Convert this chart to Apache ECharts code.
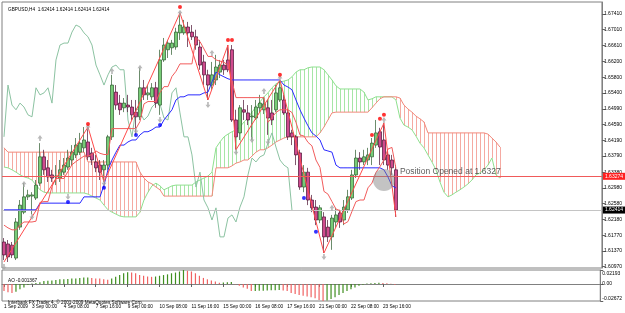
<!DOCTYPE html>
<html><head><meta charset="utf-8">
<script src="https://cdn.jsdelivr.net/npm/echarts@6/dist/echarts.min.js"></script>
<style>html,body{margin:0;padding:0;background:#fff}#c{width:625px;height:313px}</style>
</head><body><div id="c"></div>
<script>
// ---- axis labels ----
const tickLabels = ['1 Sep 2009','3 Sep 00:00','4 Sep 08:00','7 Sep 16:00','9 Sep 00:00','10 Sep 08:00','11 Sep 16:00','15 Sep 00:00','16 Sep 08:00','17 Sep 16:00','21 Sep 00:00','22 Sep 08:00','23 Sep 16:00'];
const tickBars = [0,7,15,23,31,39,47,55,63,71,79,87,95];
const priceTicks = [1.67410,1.67010,1.66610,1.66200,1.65800,1.65400,1.64990,1.64590,1.64190,1.63790,1.63380,1.62980,1.62580,1.62180,1.61770,1.61370,1.60970];
const aoTicks = [0.02193,0,-0.02672];
const slotCount = 150;

// ---- GBPUSD H4 candles ----
const opens = [1.6160,1.6155,1.6152,1.6119,1.6198,1.6236,1.6275,1.6277,1.6272,1.6310,
1.6377,1.6349,1.6331,1.6326,1.6323,1.6338,1.6351,1.6369,1.6382,1.6389,
1.6400,1.6415,1.6387,1.6364,1.6356,1.6344,1.6356,1.6428,1.6542,1.6514,
1.6502,1.6509,1.6504,1.6491,1.6479,1.6553,1.6535,1.6530,1.6553,1.6509,
1.6624,1.6650,1.6655,1.6657,1.6693,1.6693,1.6708,1.6695,1.6683,1.6657,
1.6619,1.6586,1.6560,1.6573,1.6593,1.6611,1.6624,1.6650,1.6471,1.6438,
1.6497,1.6489,1.6479,1.6476,1.6502,1.6497,1.6502,1.6489,1.6497,1.6522,
1.6522,1.6489,1.6438,1.6428,1.6387,1.6300,1.6338,1.6267,1.6249,1.6216,
1.6224,1.6198,1.6173,1.6211,1.6234,1.6216,1.6242,1.6272,1.6331,1.6374,
1.6364,1.6369,1.6377,1.6407,1.6441,1.6420,1.6382,1.6369,1.6344];
const closes = [1.6127,1.6122,1.6127,1.6211,1.6254,1.6275,1.6280,1.6280,1.6305,1.6377,
1.6344,1.6326,1.6323,1.6328,1.6344,1.6356,1.6374,1.6389,1.6407,1.6412,
1.6420,1.6377,1.6369,1.6349,1.6338,1.6356,1.6428,1.6560,1.6509,1.6497,
1.6514,1.6504,1.6484,1.6479,1.6553,1.6535,1.6540,1.6553,1.6514,1.6624,
1.6662,1.6667,1.6667,1.6695,1.6713,1.6708,1.6693,1.6683,1.6662,1.6611,
1.6586,1.6560,1.6586,1.6606,1.6611,1.6599,1.6599,1.6471,1.6428,1.6502,
1.6491,1.6471,1.6481,1.6504,1.6514,1.6512,1.6476,1.6471,1.6540,1.6553,
1.6489,1.6428,1.6428,1.6382,1.6300,1.6338,1.6267,1.6247,1.6216,1.6247,
1.6173,1.6173,1.6221,1.6229,1.6211,1.6249,1.6275,1.6331,1.6374,1.6364,
1.6377,1.6382,1.6412,1.6438,1.6402,1.6369,1.6356,1.6349,1.62414];
const lows = [1.6114,1.6109,1.6119,1.6114,1.6191,1.6231,1.6267,1.6231,1.6267,1.6303,
1.6331,1.6313,1.6313,1.6305,1.6313,1.6331,1.6344,1.6356,1.6374,1.6382,
1.6389,1.6369,1.6356,1.6338,1.6318,1.6313,1.6344,1.6420,1.6497,1.6484,
1.6491,1.6491,1.6471,1.6433,1.6471,1.6522,1.6522,1.6522,1.6502,1.6484,
1.6619,1.6629,1.6637,1.6650,1.6675,1.6688,1.6657,1.6675,1.6650,1.6599,
1.6560,1.6522,1.6548,1.6560,1.6578,1.6586,1.6593,1.6466,1.6395,1.6420,
1.6471,1.6458,1.6420,1.6471,1.6491,1.6486,1.6433,1.6458,1.6491,1.6517,
1.6484,1.6420,1.6407,1.6356,1.6293,1.6287,1.6254,1.6236,1.6203,1.6208,
1.6132,1.6160,1.6140,1.6196,1.6196,1.6203,1.6234,1.6267,1.6323,1.6344,
1.6356,1.6356,1.6356,1.6400,1.6356,1.6356,1.6344,1.6331,1.6224];
const highs = [1.6170,1.6165,1.6160,1.6221,1.6267,1.6310,1.6293,1.6287,1.6318,1.6412,
1.6395,1.6369,1.6344,1.6356,1.6369,1.6374,1.6395,1.6407,1.6425,1.6438,
1.6453,1.6453,1.6400,1.6382,1.6369,1.6369,1.6433,1.6586,1.6560,1.6535,
1.6527,1.6535,1.6522,1.6522,1.6604,1.6573,1.6560,1.6565,1.6568,1.6650,
1.6680,1.6675,1.6675,1.6706,1.6744,1.6726,1.6721,1.6713,1.6701,1.6675,
1.6637,1.6599,1.6619,1.6637,1.6624,1.6624,1.6662,1.6662,1.6497,1.6509,
1.6522,1.6509,1.6509,1.6522,1.6535,1.6530,1.6522,1.6522,1.6560,1.6573,
1.6535,1.6497,1.6446,1.6433,1.6395,1.6356,1.6349,1.6280,1.6267,1.6254,
1.6236,1.6216,1.6229,1.6247,1.6242,1.6267,1.6293,1.6344,1.6395,1.6389,
1.6395,1.6400,1.6425,1.6471,1.6451,1.6463,1.6395,1.6382,1.6356];

// ---- Ichimoku ----
const tenkan = [1.6203,1.6196,1.6191,1.6191,1.6203,1.6211,1.6211,1.6211,1.6213,1.6261,
1.6263,1.6263,1.6301,1.6322,1.6322,1.6322,1.6340,1.6357,1.6365,1.6372,
1.6379,1.6379,1.6383,1.6392,1.6386,1.6383,1.6383,1.6449,1.6449,1.6449,
1.6449,1.6449,1.6449,1.6449,1.6467,1.6512,1.6518,1.6518,1.6518,1.6541,
1.6556,1.6556,1.6582,1.6595,1.6614,1.6614,1.6614,1.6614,1.6681,1.6671,
1.6652,1.6633,1.6633,1.6624,1.6621,1.6618,1.6611,1.6570,1.6528,1.6528,
1.6528,1.6528,1.6528,1.6528,1.6528,1.6528,1.6465,1.6477,1.6490,1.6497,
1.6497,1.6497,1.6490,1.6465,1.6433,1.6430,1.6414,1.6405,1.6369,1.6350,
1.6289,1.6282,1.6263,1.6244,1.6240,1.6206,1.6212,1.6238,1.6263,1.6267,
1.6267,1.6298,1.6310,1.6337,1.6352,1.6369,1.6397,1.6401,1.6347];
const kijun = [1.6242,1.6242,1.6242,1.6242,1.6242,1.6242,1.6242,1.6242,1.6242,1.6259,
1.6259,1.6259,1.6259,1.6259,1.6259,1.6259,1.6259,1.6259,1.6259,1.6259,
1.6275,1.6275,1.6275,1.6275,1.6275,1.6305,1.6344,1.6369,1.6389,1.6407,
1.6407,1.6415,1.6420,1.6420,1.6433,1.6441,1.6441,1.6446,1.6453,1.6453,
1.6471,1.6484,1.6497,1.6522,1.6530,1.6530,1.6535,1.6535,1.6535,1.6535,
1.6540,1.6542,1.6568,1.6593,1.6586,1.6581,1.6576,1.6573,1.6573,1.6573,
1.6573,1.6573,1.6573,1.6573,1.6573,1.6573,1.6573,1.6573,1.6573,1.6573,
1.6560,1.6555,1.6548,1.6522,1.6497,1.6476,1.6456,1.6438,1.6430,1.6420,
1.6395,1.6392,1.6389,1.6356,1.6349,1.6349,1.6349,1.6349,1.6349,1.6349,
1.6349,1.6349,1.6349,1.6349,1.6349,1.6344,1.6326,1.6303,1.6298];
const spanA = [1.6351,1.6349,1.6344,1.6338,1.6331,1.6326,1.6323,1.6318,1.6305,1.6293,
1.6287,1.6285,1.6285,1.6285,1.6285,1.6285,1.6285,1.6285,1.6285,1.6285,
1.6285,1.6282,1.6277,1.6272,1.6267,1.6254,1.6242,1.6236,1.6231,1.6226,
1.6224,1.6224,1.6224,1.6224,1.6236,1.6267,1.6287,1.6303,1.6310,1.6303,
1.6293,1.6298,1.6303,1.6305,1.6305,1.6305,1.6305,1.6305,1.6313,1.6318,
1.6323,1.6328,1.6338,1.6400,1.6415,1.6428,1.6435,1.6441,1.6446,1.6453,
1.6466,1.6476,1.6491,1.6504,1.6517,1.6530,1.6540,1.6553,1.6563,1.6568,
1.6570,1.6573,1.6581,1.6593,1.6599,1.6599,1.6604,1.6606,1.6606,1.6606,
1.6599,1.6586,1.6573,1.6558,1.6550,1.6550,1.6550,1.6550,1.6550,1.6550,
1.6542,1.6522,1.6525,1.6530,1.6530,1.6530,1.6530,1.6530,1.6522,1.6476,
1.6458,1.6453,1.6446,1.6430,1.6412,1.6400,1.6382,1.6364,1.6344,1.6313,
1.6287,1.6275,1.6280,1.6287,1.6293,1.6300,1.6308,1.6318,1.6331,1.6336,
1.6344,1.6356,1.6374,1.6331,1.6323];
const spanB = [1.6400,1.6389,1.6389,1.6389,1.6389,1.6389,1.6389,1.6389,1.6389,1.6389,
1.6389,1.6389,1.6389,1.6389,1.6389,1.6389,1.6389,1.6389,1.6389,1.6389,
1.6389,1.6364,1.6364,1.6364,1.6364,1.6364,1.6364,1.6364,1.6364,1.6364,
1.6364,1.6364,1.6364,1.6364,1.6338,1.6323,1.6313,1.6308,1.6300,1.6293,
1.6277,1.6277,1.6277,1.6277,1.6277,1.6277,1.6277,1.6277,1.6277,1.6277,
1.6277,1.6277,1.6277,1.6349,1.6349,1.6349,1.6349,1.6354,1.6361,1.6364,
1.6369,1.6369,1.6379,1.6389,1.6395,1.6395,1.6400,1.6407,1.6415,1.6420,
1.6425,1.6428,1.6428,1.6428,1.6428,1.6428,1.6428,1.6428,1.6428,1.6438,
1.6453,1.6471,1.6489,1.6491,1.6491,1.6491,1.6491,1.6491,1.6491,1.6491,
1.6491,1.6491,1.6502,1.6514,1.6525,1.6530,1.6530,1.6530,1.6530,1.6527,
1.6509,1.6499,1.6491,1.6481,1.6474,1.6466,1.6438,1.6438,1.6438,1.6438,
1.6438,1.6438,1.6438,1.6438,1.6438,1.6438,1.6438,1.6438,1.6438,1.6438,
1.6438,1.6435,1.6425,1.6415,1.6402];
const chikouShift = 26;

// ---- ZigZag ----
const zigzagBars = [0,21,25,44,51,56,58,69,80,95,98];
const zigzagPrices = [1.6109,1.6453,1.6313,1.6744,1.6522,1.6662,1.6395,1.6573,1.6132,1.6463,1.6224];

// ---- signal dots & fractals ----
const redDotBars = [21,44,56,57,69,92,94,95];
const redDotPrices = [1.6461,1.6759,1.6675,1.6675,1.6586,1.6433,1.6474,1.6484];
const blueDotBars = [16,25,33,39,75,78];
const blueDotPrices = [1.6262,1.6298,1.6433,1.6458,1.6272,1.6186];
const upFractalBars = [5,9,21,27,34,44,52,65,69,82,95];
const upFractalPrices = [1.6308,1.6425,1.6453,1.6596,1.6604,1.6744,1.6642,1.6545,1.6578,1.6247,1.6471];
const dnFractalBars = [0,7,16,25,33,39,51,58,62,66,80];
const dnFractalPrices = [1.6096,1.6224,1.6275,1.6310,1.6443,1.6471,1.6509,1.6389,1.6420,1.6415,1.6122];

// ---- Awesome Oscillator ----
const ao = [-0.0112,-0.0129,-0.0140,-0.0123,-0.0084,-0.0056,-0.0017,0.0006,0.0017,0.0028,
0.0045,0.0050,0.0056,0.0061,0.0073,0.0075,0.0078,0.0084,0.0087,0.0095,
0.0101,0.0103,0.0095,0.0087,0.0084,0.0073,0.0067,0.0084,0.0112,0.0140,
0.0168,0.0184,0.0179,0.0168,0.0140,0.0129,0.0117,0.0112,0.0117,0.0129,
0.0140,0.0151,0.0168,0.0179,0.0196,0.0219,0.0207,0.0196,0.0168,0.0129,
0.0095,0.0073,0.0056,0.0039,0.0020,0.0025,0.0028,0.0031,-0.0005,-0.0028,
-0.0056,-0.0073,-0.0112,-0.0110,-0.0108,-0.0106,-0.0104,-0.0100,-0.0098,-0.0095,
-0.0101,-0.0112,-0.0140,-0.0157,-0.0173,-0.0185,-0.0196,-0.0207,-0.0224,-0.0252,
-0.0267,-0.0258,-0.0235,-0.0207,-0.0173,-0.0140,-0.0112,-0.0084,-0.0056,-0.0028,
-0.0011,0.0006,0.0011,0.0015,0.0019,0.0016,0.0011,0.0003,-0.001367];

const positionPrice = 1.63274;
const bidPrice = 1.62414;
const positionMarkBar = 95;
const positionMarkPrice = 1.6318;

// ---------- build ----------
const FONT = 'Liberation Sans, Arial, sans-serif';
const cats = [];
for (let i = 0; i < slotCount; i++) cats.push(String(i));
const labelAt = {};
tickBars.forEach((b, k) => { labelAt[b] = tickLabels[k]; });

const candleData = opens.map((o, i) => [o, closes[i], lows[i], highs[i]]);
const chikou = closes.slice(chikouShift);
const cloudData = spanA.map((a, i) => [i, a, spanB[i]]);
const pairs = (xs, ys) => xs.map((x, i) => [x, ys[i]]);
const aoData = ao.map((v, i) => ({
  value: v,
  itemStyle: { color: (i > 0 && v > ao[i - 1]) ? '#3f8f1f' : '#f06262' }
}));
const aoLabel = (v) => {
  if (Math.abs(v) < 1e-9) return '0.00';
  if (v > 0) return '{t|' + v.toFixed(5) + '}';
  return '{b|' + v.toFixed(5) + '}';
};

const upArrow = 'path://M3,0 L6,4 L4,4 L4,7 L2,7 L2,4 L0,4 Z';
const dnArrow = 'path://M2,0 L4,0 L4,3 L6,3 L3,7 L0,3 L2,3 Z';

const chart = echarts.init(document.getElementById('c'), null, { renderer: 'canvas' });
chart.setOption({
  animation: false,
  backgroundColor: '#ffffff',
  title: [
    { text: 'GBPUSD,H4  1.62414 1.62414 1.62414 1.62414', left: 3, top: 2, textStyle: { fontSize: 4.7, fontWeight: 'normal', color: '#000', fontFamily: FONT } },
    { text: 'AO -0.001367', left: 3, top: 273, textStyle: { fontSize: 4.7, fontWeight: 'normal', color: '#000', fontFamily: FONT } },
    { text: 'Interbank FX Trader 4, \u00a9 2001-2009 MetaQuotes Software Corp.', left: 3, top: 295.5, textStyle: { fontSize: 4.7, fontWeight: 'normal', color: '#000', fontFamily: FONT } }
  ],
  grid: [
    { left: 2, top: 2, width: 601, height: 266, show: true, borderColor: '#808080', borderWidth: 1, backgroundColor: '#fff' },
    { left: 2, top: 270, width: 601, height: 31, show: true, borderColor: '#808080', borderWidth: 1, backgroundColor: '#fff' }
  ],
  xAxis: [
    { type: 'category', gridIndex: 0, data: cats, boundaryGap: true, axisLine: { show: false }, axisTick: { show: false }, axisLabel: { show: false }, splitLine: { show: false } },
    { type: 'category', gridIndex: 1, data: cats, boundaryGap: true,
      axisLine: { show: true, lineStyle: { color: '#808080' } },
      axisTick: { show: true, alignWithLabel: true, length: 3, interval: (idx) => labelAt[idx] !== undefined, lineStyle: { color: '#606060' } },
      axisLabel: { show: true, interval: (idx) => labelAt[idx] !== undefined, formatter: (v, idx) => labelAt[Number(v)] || '', align: 'left', margin: 3, fontSize: 4.7, color: '#000', fontFamily: FONT },
      splitLine: { show: false } }
  ],
  yAxis: [
    { type: 'value', gridIndex: 0, position: 'right', min: 1.60937, max: 1.67717, splitLine: { show: false },
      axisLine: { show: true, lineStyle: { color: '#808080' } },
      axisTick: { show: true, length: 3, customValues: priceTicks, lineStyle: { color: '#606060' } },
      axisLabel: { customValues: priceTicks, formatter: (v) => v.toFixed(5), fontSize: 5, margin: 2, color: '#000', fontFamily: FONT } },
    { type: 'value', gridIndex: 1, position: 'right', min: -0.02672, max: 0.02193, splitLine: { show: false },
      axisLine: { show: true, lineStyle: { color: '#808080' } },
      axisTick: { show: true, length: 3, customValues: aoTicks, lineStyle: { color: '#606060' } },
      axisLabel: { customValues: aoTicks, formatter: aoLabel, fontSize: 5, margin: 2, color: '#000', fontFamily: FONT,
        rich: { t: { fontSize: 5, fontFamily: FONT, color: '#000', padding: [7, 0, 0, 0] }, b: { fontSize: 5, fontFamily: FONT, color: '#000', padding: [0, 0, 4, 0] } } } }
  ],
  series: [
    { name: 'Kumo', type: 'custom', xAxisIndex: 0, yAxisIndex: 0, data: cloudData, encode: { x: 0, y: [1, 2] }, z: 1,
      renderItem: function (params, api) {
        const i = api.value(0), a = api.value(1), b = api.value(2);
        const p1 = api.coord([i, a]), p2 = api.coord([i, b]);
        const x = Math.round(p1[0]) + 0.5;
        return { type: 'line', shape: { x1: x, y1: p1[1], x2: x, y2: p2[1] }, style: { stroke: a >= b ? '#a6e6a6' : '#f5aaa2', lineWidth: 1 } };
      } },
    { name: 'Senkou A', type: 'line', data: spanA, symbol: 'none', lineStyle: { color: '#8fe08f', width: 1 }, z: 2 },
    { name: 'Senkou B', type: 'line', data: spanB, symbol: 'none', lineStyle: { color: '#f28a7c', width: 1 }, z: 2 },
    { name: 'Chikou', type: 'line', data: chikou, symbol: 'none', lineStyle: { color: '#8cc3a2', width: 1 }, z: 3 },
    { name: 'GBPUSD', type: 'candlestick', data: candleData, barWidth: 3, z: 4,
      itemStyle: { color: '#77cc77', color0: '#d04a8e', borderColor: '#2d5a2d', borderColor0: '#4a1030', borderWidth: 0.7 },
      markLine: { symbol: 'none', silent: true, animation: false, precision: 5,
        data: [
          { yAxis: positionPrice, lineStyle: { color: '#f05a5a', type: 'solid', width: 1 },
            label: { show: true, position: 'end', distance: 1, formatter: (p) => Number(p.value).toFixed(5), color: '#fff', backgroundColor: '#ff2020', padding: [1, 2], fontSize: 5, fontFamily: FONT } },
          { yAxis: bidPrice, lineStyle: { color: '#c4c4c4', type: 'solid', width: 1 },
            label: { show: true, position: 'end', distance: 1, formatter: (p) => Number(p.value).toFixed(5), color: '#fff', backgroundColor: '#000', padding: [1, 2], fontSize: 5, fontFamily: FONT } }
        ] } },
    { name: 'Kijun', type: 'line', data: kijun, symbol: 'none', lineStyle: { color: '#2a2aff', width: 1 }, z: 5 },
    { name: 'Tenkan', type: 'line', data: tenkan, symbol: 'none', lineStyle: { color: '#f25c5c', width: 1 }, z: 5 },
    { name: 'ZigZag', type: 'line', data: pairs(zigzagBars, zigzagPrices), symbol: 'none', lineStyle: { color: '#ff4a4a', width: 1 }, z: 6 },
    { name: 'Up fractals', type: 'scatter', data: pairs(upFractalBars, upFractalPrices), symbol: upArrow, symbolSize: [5, 6], itemStyle: { color: '#a8a8a8' }, z: 7 },
    { name: 'Down fractals', type: 'scatter', data: pairs(dnFractalBars, dnFractalPrices), symbol: dnArrow, symbolSize: [5, 6], itemStyle: { color: '#a8a8a8' }, z: 7 },
    { name: 'Sell signals', type: 'scatter', data: pairs(redDotBars, redDotPrices), symbol: 'circle', symbolSize: 4, itemStyle: { color: '#ff0000' }, z: 8 },
    { name: 'Buy signals', type: 'scatter', data: pairs(blueDotBars, blueDotPrices), symbol: 'circle', symbolSize: 4, itemStyle: { color: '#0000ff' }, z: 8 },
    { name: 'Position', type: 'scatter', data: [[positionMarkBar, positionMarkPrice]], symbol: 'circle', symbolSize: 22, itemStyle: { color: 'rgba(130,130,130,0.6)' }, z: 9,
      label: { show: true, position: 'right', distance: 5, offset: [0, -8], formatter: 'Position Opened at 1.6327', fontSize: 8.5, color: '#333', fontFamily: FONT } },
    { name: 'AO', type: 'bar', xAxisIndex: 1, yAxisIndex: 1, data: aoData, barWidth: 1.2 }
  ]
});
</script>
</body></html>
